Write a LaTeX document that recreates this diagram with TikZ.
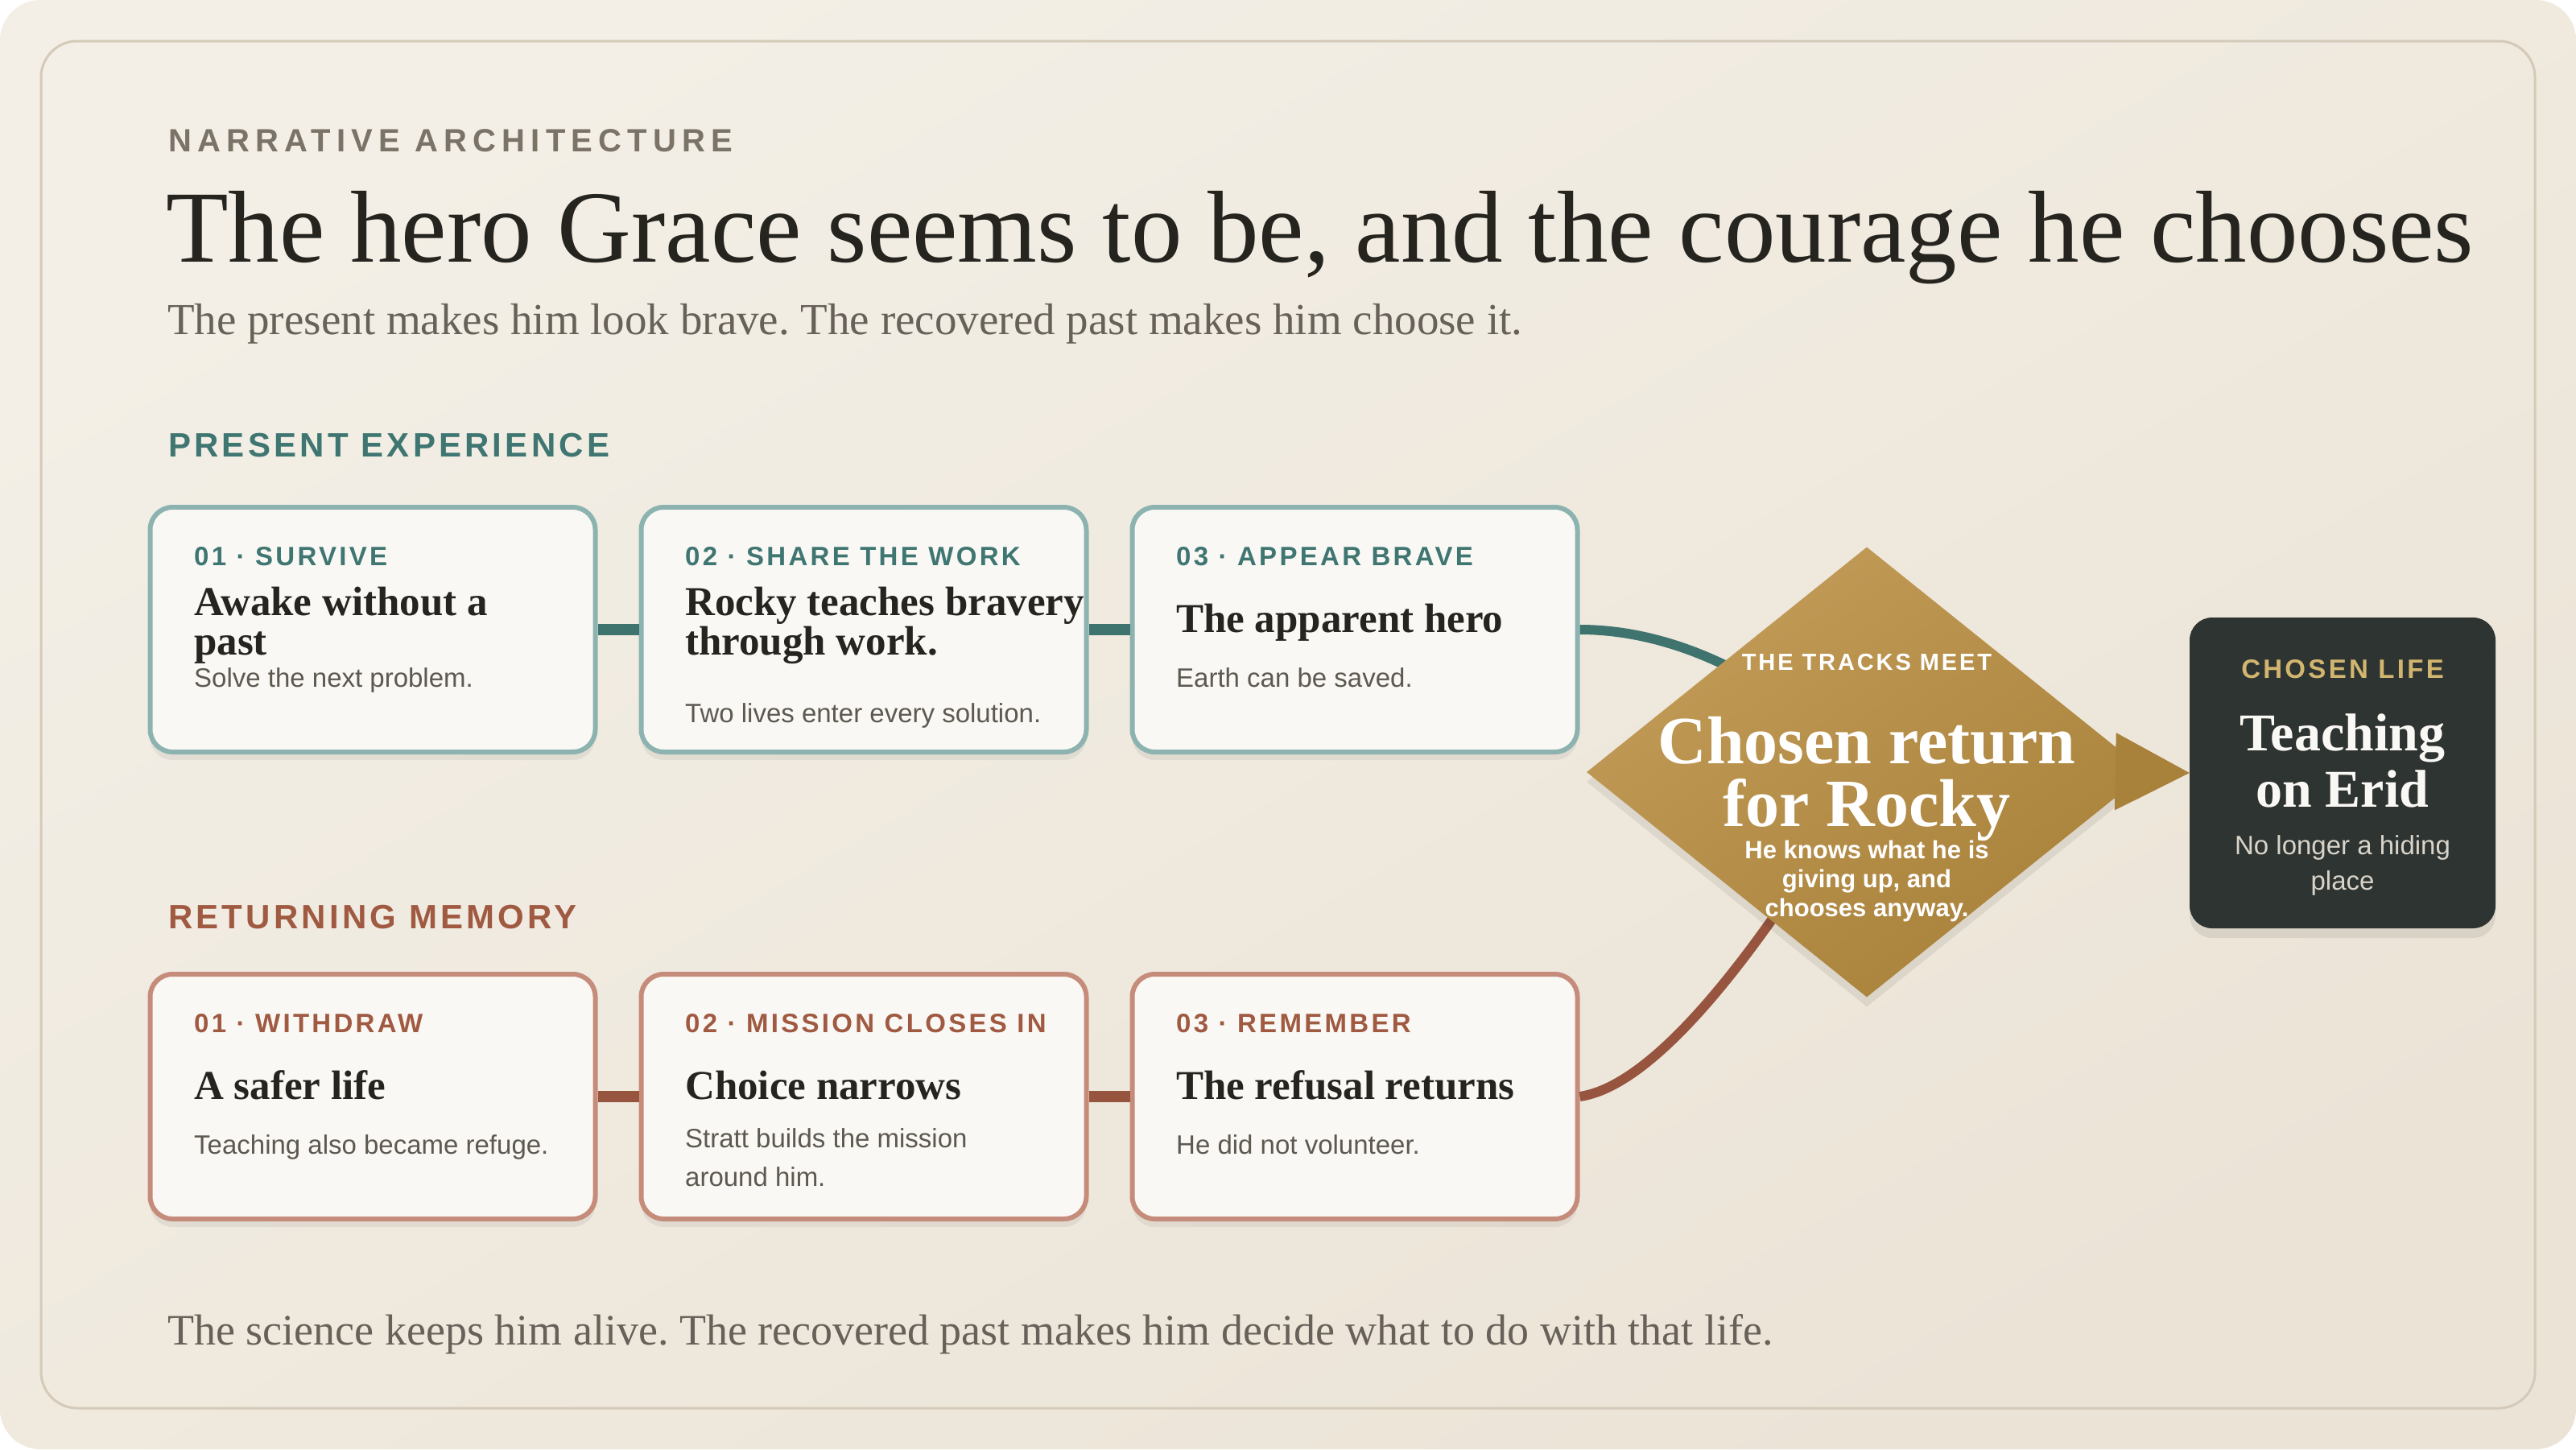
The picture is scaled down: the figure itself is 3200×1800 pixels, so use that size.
\documentclass[tikz,border=0pt]{standalone}
\usepackage{fontspec}
\setmainfont{Liberation Serif}
\setsansfont{Liberation Sans}
\newfontfamily\capsfont[LetterSpace=10]{Liberation Sans}
\newfontfamily\widefont[LetterSpace=18]{Liberation Sans}
\usetikzlibrary{shapes.geometric,arrows.meta,shadows}
\frenchspacing

\definecolor{bgtop}{HTML}{F3EFE6}
\definecolor{bgbot}{HTML}{EBE3D6}
\definecolor{framec}{HTML}{D5CAB9}
\definecolor{cardbg}{HTML}{FAF8F4}
\definecolor{tealtxt}{HTML}{3F7671}
\definecolor{tealedge}{HTML}{8CB3B0}
\definecolor{tealbar}{HTML}{3F736E}
\definecolor{rusttxt}{HTML}{A05A42}
\definecolor{rustedge}{HTML}{C68C7B}
\definecolor{rustbar}{HTML}{97553F}
\definecolor{ink}{HTML}{25241F}
\definecolor{notegray}{HTML}{5D5850}
\definecolor{eyebrow}{HTML}{7B7368}
\definecolor{subgray}{HTML}{67615A}
\definecolor{goldhi}{HTML}{C29C58}
\definecolor{goldlo}{HTML}{A8813A}
\definecolor{goldtxt}{HTML}{D2B56F}
\definecolor{darkbox}{HTML}{2E3431}
\definecolor{lightnote}{HTML}{D9D4CA}

\begin{document}
\begin{tikzpicture}[x=1pt,y=1pt,
  card/.style={draw=#1, fill=cardbg, line width=6pt, rounded corners=28pt,
    minimum width=553pt, minimum height=304pt, inner sep=0pt,
    drop shadow={shadow xshift=0pt, shadow yshift=-10pt, opacity=.06, fill=black}},
  tag/.style={anchor=base west, inner sep=0pt, text=#1,
    font=\capsfont\bfseries\fontsize{33}{40}\selectfont},
  head/.style={anchor=base west, inner sep=0pt, align=left, text=ink,
    font=\bfseries\fontsize{51}{49}\selectfont},
  note/.style={anchor=base west, inner sep=0pt, align=left, text=notegray,
    font=\sffamily\fontsize{33}{48}\selectfont},
  bar/.style={draw=#1, line width=14pt},
  track/.style={draw=#1, line width=12pt},
  section/.style={anchor=base west, inner sep=0pt, text=#1,
    font=\capsfont\bfseries\fontsize{42}{50}\selectfont},
  junction/.style={diamond, minimum width=696pt, minimum height=559pt, inner sep=0pt,
    top color=goldhi, bottom color=goldlo, shading angle=35,
    drop shadow={shadow xshift=0pt, shadow yshift=-12pt, opacity=.07, fill=black}},
  lifebox/.style={fill=darkbox, rounded corners=28pt, minimum width=380pt,
    minimum height=386pt, inner sep=0pt,
    drop shadow={shadow xshift=0pt, shadow yshift=-12pt, opacity=.08, fill=black}}]

	\useasboundingbox (0,0) rectangle (3200,-1800);
	\shade[top color=bgtop, bottom color=bgbot, shading angle=30, rounded corners=50pt]
		(0,0) rectangle (3200,-1800);
	\draw[framec, line width=3pt, rounded corners=45pt] (51,-51) rectangle (3149,-1749);

	% header
	\draw (209,-188) node[anchor=base west, inner sep=0pt, text=eyebrow,
		font=\widefont\bfseries\fontsize{40}{48}\selectfont](kicker){NARRATIVE ARCHITECTURE};
	\draw (206,-325) node[anchor=base west, inner sep=0pt, text=ink,
		font=\fontsize{127}{140}\selectfont](title){The hero Grace seems to be, and the courage he chooses};
	\draw (208,-415) node[anchor=base west, inner sep=0pt, text=subgray,
		font=\fontsize{55}{64}\selectfont](subtitle){The present makes him look brave. The recovered past makes him choose it.};

	% present track
	\draw (209,-567) node[section=tealtxt](present){PRESENT EXPERIENCE};
	\draw (463,-782) node[card=tealedge](s1){};
	\draw (1073,-782) node[card=tealedge](s2){};
	\draw (1683,-782) node[card=tealedge](s3){};

	% memory track
	\draw (209,-1153) node[section=rusttxt](memory){RETURNING MEMORY};
	\draw (463,-1362) node[card=rustedge](m1){};
	\draw (1073,-1362) node[card=rustedge](m2){};
	\draw (1683,-1362) node[card=rustedge](m3){};

	\draw [bar=tealbar](s1) -- (s2);
	\draw [bar=tealbar](s2) -- (s3);
	\draw [bar=rustbar](m1) -- (m2);
	\draw [bar=rustbar](m2) -- (m3);

	% the tracks meet
	\coordinate (hub) at (2319,-959);
	\draw [track=tealbar](s3.east) .. controls +(134,0) and +(-90,99) .. (hub);
	\draw [track=rustbar](m3.east) .. controls +(114,17) and +(-90,-151) .. (hub);
	\draw (hub) node[junction](meet){};
	\draw (2910,-960) node[lifebox](life){};
	\draw [-{Triangle[length=92pt,width=96pt]}, draw=goldlo, line width=1pt](meet.east) -- (life.west);

	% card texts (multi-line nodes sit on their last baseline)
	\draw (241,-702) node[tag=tealtxt](s1tag){01 · SURVIVE};
	\draw (241,-813) node[head](s1head){Awake without a\\past};
	\draw (241,-853) node[note](s1note){Solve the next problem.};
	\draw (851,-702) node[tag=tealtxt](s2tag){02 · SHARE THE WORK};
	\draw (851,-813) node[head](s2head){Rocky teaches bravery\\through work.};
	\draw (851,-897) node[note](s2note){Two lives enter every solution.};
	\draw (1461,-702) node[tag=tealtxt](s3tag){03 · APPEAR BRAVE};
	\draw (1461,-785) node[head](s3head){The apparent hero};
	\draw (1461,-853) node[note](s3note){Earth can be saved.};

	\draw (241,-1282) node[tag=rusttxt](m1tag){01 · WITHDRAW};
	\draw (241,-1365) node[head](m1head){A safer life};
	\draw (241,-1433) node[note](m1note){Teaching also became refuge.};
	\draw (851,-1282) node[tag=rusttxt](m2tag){02 · MISSION CLOSES IN};
	\draw (851,-1365) node[head](m2head){Choice narrows};
	\draw (851,-1473) node[note](m2note){Stratt builds the mission\\around him.};
	\draw (1461,-1282) node[tag=rusttxt](m3tag){03 · REMEMBER};
	\draw (1461,-1365) node[head](m3head){The refusal returns};
	\draw (1461,-1433) node[note](m3note){He did not volunteer.};

	% diamond and outcome texts
	\draw (2319,-832) node[anchor=base, inner sep=0pt, text=white,
		font=\capsfont\bfseries\fontsize{29}{36}\selectfont](meettag){THE TRACKS MEET};
	\draw (2319,-1026) node[anchor=base, inner sep=0pt, align=center, text=white,
		font=\bfseries\fontsize{84}{78}\selectfont](meethead){Chosen return\\for Rocky};
	\draw (2319,-1138) node[anchor=base, inner sep=0pt, align=center, text=white,
		font=\sffamily\bfseries\fontsize{31}{36}\selectfont](meetnote){He knows what he is\\giving up, and\\chooses anyway.};
	\draw (2910,-842) node[anchor=base, inner sep=0pt, text=goldtxt,
		font=\capsfont\bfseries\fontsize{33}{40}\selectfont](lifetag){CHOSEN LIFE};
	\draw (2910,-1002) node[anchor=base, inner sep=0pt, align=center, text=cardbg,
		font=\bfseries\fontsize{66}{70}\selectfont](lifehead){Teaching\\on Erid};
	\draw (2910,-1105) node[anchor=base, inner sep=0pt, align=center, text=lightnote,
		font=\sffamily\fontsize{33}{44}\selectfont](lifenote){No longer a hiding\\place};

	% closing line
	\draw (208,-1670) node[anchor=base west, inner sep=0pt, text=subgray,
		font=\fontsize{54}{64}\selectfont](closing){The science keeps him alive. The recovered past makes him decide what to do with that life.};
\end{tikzpicture}
\end{document}
